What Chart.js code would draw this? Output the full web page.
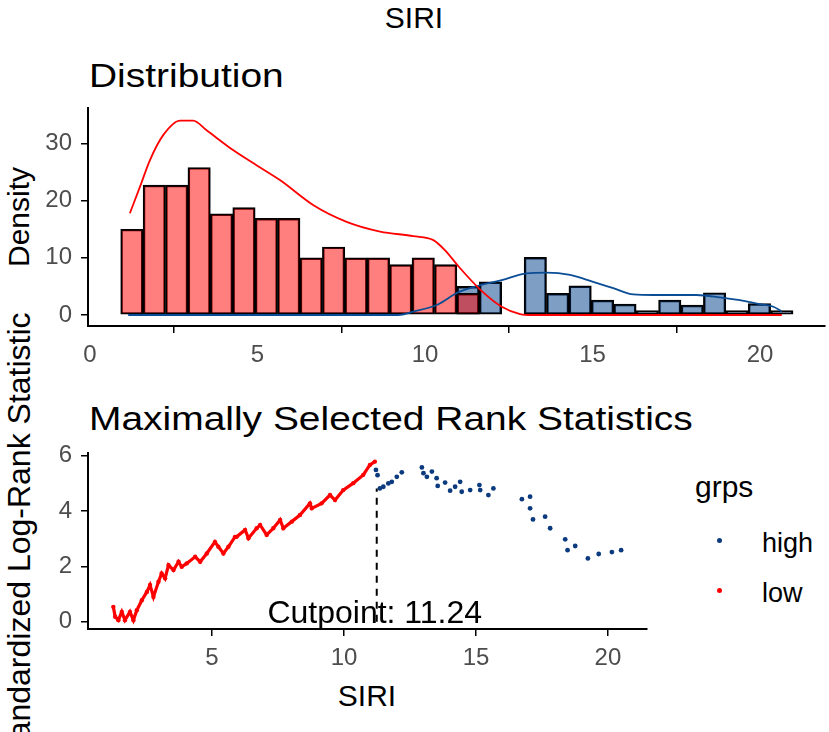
<!DOCTYPE html>
<html>
<head>
<meta charset="utf-8">
<script src="https://cdn.jsdelivr.net/npm/chart.js"></script>
<style>
  body { margin: 0; background: #fff; width: 829px; height: 732px; overflow: hidden; position: relative; font-family: "Liberation Sans", Arial, sans-serif; color: #000; }
  .t { position: absolute; white-space: nowrap; line-height: 1; }
  canvas { position: absolute; left: 0; }
</style>
</head>
<body>
<div class="t" style="left:414px;top:3px;font-size:30px;transform:translateX(-50%)">SIRI</div>
<div class="t" style="left:89px;top:59px;font-size:33px;transform:scaleX(1.18);transform-origin:left top">Distribution</div>
<div class="t" style="left:89px;top:402px;font-size:33px;transform:scaleX(1.18);transform-origin:left top">Maximally Selected Rank Statistics</div>
<div class="t" style="left:19px;top:217px;font-size:30px;transform:translate(-50%,-50%) rotate(-90deg)">Density</div>
<div class="t" style="left:19px;top:541px;font-size:32px;transform:translate(-50%,-50%) rotate(-90deg)">Standardized Log-Rank Statistic</div>
<div class="t" style="left:367px;top:681px;font-size:30px;transform:translateX(-50%)">SIRI</div>

<!-- legend -->
<div class="t" style="left:695px;top:472px;font-size:30px">grps</div>
<div style="position:absolute;left:717px;top:538px;width:5px;height:5px;border-radius:50%;background:#0B3A7E"></div>
<div class="t" style="left:762px;top:530px;font-size:27px">high</div>
<div style="position:absolute;left:717px;top:588px;width:5px;height:5px;border-radius:50%;background:#FF0000"></div>
<div class="t" style="left:762px;top:580px;font-size:27px">low</div>

<canvas id="distChart" width="829" height="270" style="top:96px"></canvas>
<canvas id="rankChart" width="829" height="240" style="top:440px"></canvas>

<script>
const FONT = '"Liberation Sans", Arial, sans-serif'

// histogram bins (30 bins, ggplot default)
const binStart = 0.916
const binWidth = 0.669
const lowCounts = [15, 22.7, 22.7, 25.8, 17.7, 18.8, 16.9, 16.9, 10, 11.9, 10, 10, 8.8, 10, 8.8, 3.8,
  null, null, null, null, null, null, null, null, null, null, null, null, null, null]
const highCounts = [null, null, null, null, null, null, null, null, null, null, null, null, null, null, null,
  5.0, 5.8, null, 10.1, 3.8, 5.1, 2.6, 1.9, 0.76, 2.6, 1.75, 3.9, 0.76, 2.0, 0.76]

// density curves
const lowDensityX = [1.19, 1.49, 1.79, 2.19, 2.69, 3.08, 3.48, 4.28, 4.97, 5.67, 6.67, 7.66, 8.66, 9.65, 10.25, 10.6, 11.0, 11.64, 12.29, 12.84, 13.2, 20.65]
const lowDensityY = [17.8, 22.4, 27.1, 31.5, 34.0, 34.0, 32.3, 28.8, 26.2, 23.6, 19.2, 16.3, 14.6, 13.8, 13.1, 11.3, 8.5, 4.5, 1.45, 0.17, 0, 0]
const highDensityX = [1.14, 9.2, 9.65, 10.35, 11.0, 11.64, 12.29, 13.03, 13.63, 14.33, 15.02, 15.62, 16.22, 16.82, 18.1, 18.8, 19.4, 20.0, 20.4, 20.65]
const highDensityY = [0, 0, 0.6, 1.75, 4.0, 5.2, 6.1, 7.3, 7.4, 7.0, 5.8, 4.7, 3.6, 3.5, 3.5, 3.1, 2.6, 1.9, 1.45, 0.6]

// maximally selected rank statistics
const cutpoint = 11.24
const cutTop = 4.82
const lowStatX = [1.26, 1.33, 1.45, 1.58, 1.70, 1.89, 2.02, 2.15, 2.34, 2.53, 2.65, 2.78, 2.97, 3.09, 3.22, 3.35, 3.54, 3.73, 3.85, 4.04, 4.36, 4.55, 4.80, 5.11, 5.24, 5.43, 5.62, 5.87, 5.93, 6.25, 6.38, 6.69, 6.82, 7.07, 7.32, 7.58, 7.70, 8.02, 8.33, 8.71, 8.78, 9.15, 9.47, 9.66, 9.97, 10.35, 10.73, 10.98, 11.17]
const lowStatY = [0.54, 0.18, 0.06, 0.36, 0.06, 0.36, 0.06, 0.42, 0.78, 1.08, 1.33, 0.90, 1.45, 1.75, 1.57, 2.05, 1.87, 2.17, 1.99, 2.11, 2.35, 2.17, 2.47, 2.89, 2.71, 2.47, 2.71, 3.07, 3.07, 3.32, 3.02, 3.38, 3.50, 3.14, 3.38, 3.68, 3.38, 3.62, 3.86, 4.28, 4.10, 4.28, 4.58, 4.40, 4.76, 5.01, 5.31, 5.67, 5.79]
const highStatX = [11.21, 11.27, 11.36, 11.49, 11.68, 11.81, 12.0, 12.19, 12.95, 13.01, 13.14, 13.33, 13.51, 13.55, 13.83, 14.02, 14.21, 14.4, 14.46, 14.78, 15.13, 15.16, 15.47, 15.66, 16.74, 17.05, 17.05, 17.16, 17.62, 17.81, 18.38, 18.47, 18.76, 19.24, 19.65, 20.15, 20.5]
const highStatY = [5.49, 5.30, 4.82, 4.88, 5.0, 5.06, 5.24, 5.40, 5.58, 5.37, 5.24, 5.43, 5.19, 4.91, 5.03, 4.74, 4.88, 5.06, 4.70, 4.76, 4.94, 4.76, 4.58, 4.82, 4.43, 4.52, 4.10, 3.70, 3.80, 3.38, 2.98, 2.59, 2.74, 2.29, 2.45, 2.52, 2.59]

// tick labels
const distXTicks = [0, 5, 10, 15, 20]
const distYTicks = [0, 10, 20, 30]
const rankXTicks = [5, 10, 15, 20]
const rankYTicks = [0, 2, 4, 6]

const toPoints = (xs, ys) => xs.map((x, i) => ({ x: x, y: ys[i] }))

function axis(min, max, ticks, size, isX) {
  return {
    type: "linear",
    min: min,
    max: max,
    offset: false,
    afterBuildTicks: (s) => { s.ticks = ticks.map((v) => ({ value: v })) },
    afterFit: (s) => {
      if (isX) s.height = size
      else s.width = size
      // keep the plot area where the layout padding puts it
      s.paddingTop = 0
      s.paddingBottom = 0
      s.paddingLeft = 0
      s.paddingRight = 0
    },
    grid: { drawOnChartArea: false, drawTicks: true, tickLength: 7, color: "#000", lineWidth: 1.5 },
    border: { display: true, color: "#000", width: 2 },
    ticks: { color: "#4D4D4D", font: { family: FONT, size: 24, lineHeight: 1 }, padding: isX ? 10 : 9, maxRotation: 0, autoSkip: false },
  }
}

const binCenters = lowCounts.map((_, i) => binStart + (i + 0.5) * binWidth)

new Chart(document.getElementById("distChart"), {
  type: "bar",
  data: {
    datasets: [
      {
        type: "line",
        data: toPoints(lowDensityX, lowDensityY),
        borderColor: "#FF0000",
        borderWidth: 1.8,
        pointRadius: 0,
        cubicInterpolationMode: "monotone",
        fill: false,
        order: 0,
      },
      {
        type: "line",
        data: toPoints(highDensityX, highDensityY),
        borderColor: "#0A4D95",
        borderWidth: 1.8,
        pointRadius: 0,
        cubicInterpolationMode: "monotone",
        fill: false,
        order: 1,
      },
      {
        data: toPoints(binCenters, lowCounts),
        backgroundColor: "rgba(255, 0, 0, 0.5)",
        borderColor: "#000",
        borderWidth: 1.8,
        borderSkipped: false,
        barPercentage: 1,
        categoryPercentage: 1,
        grouped: false,
        order: 2,
      },
      {
        data: toPoints(binCenters, highCounts),
        backgroundColor: "rgba(0, 62, 138, 0.5)",
        borderColor: "#000",
        borderWidth: 1.8,
        borderSkipped: false,
        barPercentage: 1,
        categoryPercentage: 1,
        grouped: false,
        order: 3,
      },
    ],
  },
  options: {
    responsive: false,
    animation: false,
    devicePixelRatio: 1,
    layout: { padding: { top: 12, right: 4, left: 0, bottom: 0 } },
    plugins: { legend: { display: false }, tooltip: { enabled: false } },
    scales: {
      x: axis(-0.06, 21.94, distXTicks, 40, true),
      y: axis(-1.92, 36.2, distYTicks, 88, false),
    },
  },
})

// "Cutpoint: 11.24" label under the dashed line
const cutLabel = {
  id: "cutLabel",
  afterDatasetsDraw(chart) {
    const { ctx, scales } = chart
    ctx.save()
    ctx.font = `32px ${FONT}`
    ctx.fillStyle = "#000"
    ctx.textAlign = "center"
    ctx.textBaseline = "alphabetic"
    ctx.fillText(`Cutpoint: ${cutpoint}`, scales.x.getPixelForValue(cutpoint) - 2, scales.y.getPixelForValue(0) + 1.6)
    ctx.restore()
  },
}

new Chart(document.getElementById("rankChart"), {
  type: "scatter",
  data: {
    datasets: [
      {
        label: "low",
        data: toPoints(lowStatX, lowStatY),
        showLine: true,
        borderColor: "#FF0000",
        borderWidth: 3.2,
        pointRadius: 2.2,
        pointBorderWidth: 0,
        pointBackgroundColor: "#FF0000",
      },
      {
        label: "high",
        data: toPoints(highStatX, highStatY),
        pointRadius: 2.4,
        pointBorderWidth: 0,
        pointBackgroundColor: "#0B3A7E",
      },
      {
        label: "cut",
        data: [{ x: cutpoint, y: 0 }, { x: cutpoint, y: cutTop }],
        showLine: true,
        borderColor: "#000",
        borderWidth: 2,
        borderDash: [7, 6],
        pointRadius: 0,
      },
    ],
  },
  options: {
    responsive: false,
    animation: false,
    devicePixelRatio: 1,
    layout: { padding: { top: 13, right: 182, left: 0, bottom: 0 } },
    plugins: { legend: { display: false }, tooltip: { enabled: false } },
    scales: {
      x: axis(0.30, 21.48, rankXTicks, 51, true),
      y: axis(-0.26, 6.10, rankYTicks, 88, false),
    },
  },
  plugins: [cutLabel],
})
</script>
</body>
</html>
